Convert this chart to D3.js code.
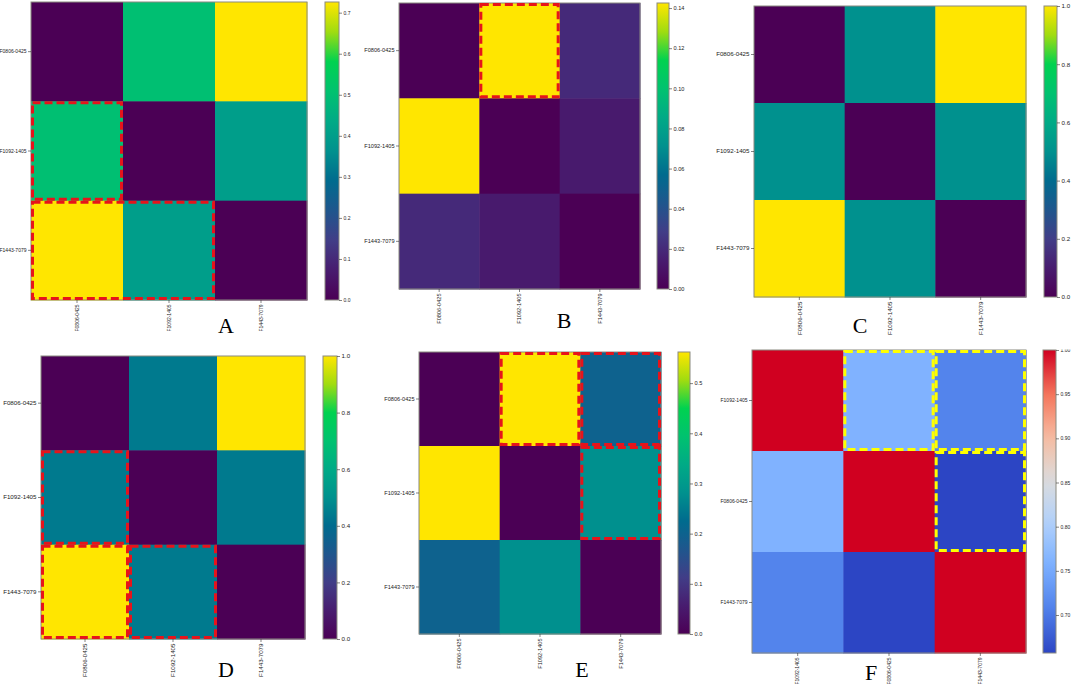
<!DOCTYPE html>
<html>
<head>
<meta charset="utf-8">
<script src="https://cdn.jsdelivr.net/npm/d3@7"></script>
<style>
  body { margin: 0; background: #fff; }
  svg { display: block; }
  .tick text { font-family: "Liberation Sans", Arial, sans-serif; fill: #222; }
  .tick line { stroke: #333; stroke-width: 0.6; }
</style>
</head>
<body>
<svg id="chart" width="1072" height="689"></svg>
<script>
// strain labels, row/column order of each matrix
var strains = ['F0806-0425', 'F1092-1405', 'F1443-7079'];
var strainsF = ['F1092-1405', 'F0806-0425', 'F1443-7079'];

// matrix values per panel
var valuesA = [[0, 0.50, 0.726], [0.50, 0, 0.40], [0.726, 0.40, 0]];
var valuesB = [[0, 0.1425, 0.020], [0.1425, 0, 0.013], [0.020, 0.013, 0]];
var valuesC = [[0, 0.50, 1.0], [0.50, 0, 0.50], [1.0, 0.50, 0]];
var valuesD = [[0, 0.44, 1.0], [0.44, 0, 0.44], [1.0, 0.44, 0]];
var valuesE = [[0, 0.562, 0.20], [0.562, 0, 0.28], [0.20, 0.28, 0]];
var valuesF = [[1.0, 0.76, 0.71], [0.76, 1.0, 0.657], [0.71, 0.657, 1.0]];

// colorbar tick values
var ticksA = [0, 0.1, 0.2, 0.3, 0.4, 0.5, 0.6, 0.7];
var ticksB = [0, 0.02, 0.04, 0.06, 0.08, 0.10, 0.12, 0.14];
var ticksC = [0, 0.2, 0.4, 0.6, 0.8, 1.0];
var ticksD = [0, 0.2, 0.4, 0.6, 0.8, 1.0];
var ticksE = [0, 0.1, 0.2, 0.3, 0.4, 0.5];
var ticksF = [0.70, 0.75, 0.80, 0.85, 0.90, 0.95, 1.00];

// highlighted cells [row, colStart, colEnd]
var boxesA = [[1, 0, 0], [2, 0, 1]];
var boxesB = [[0, 1, 1]];
var boxesC = [];
var boxesD = [[1, 0, 0], [2, 0, 0], [2, 1, 1]];
var boxesE = [[0, 1, 1], [0, 2, 2], [1, 2, 2]];
var boxesF = [[0, 1, 1], [0, 2, 2], [1, 2, 2]];

var viridisLike = d3.piecewise(d3.interpolateRgb, [
  '#4b0055', '#481c6f', '#413d87', '#1f568d', '#006b8e', '#00918e',
  '#00aa86', '#00c26f', '#00d250', '#a0dc10', '#ffe600'
]);
var coolwarmLike = d3.piecewise(d3.interpolateRgb, [
  '#2c45c4', '#5080ea', '#7aafff', '#b0d0fb', '#dcdcdc', '#f6bba0',
  '#f4735a', '#d00020'
]);

var panels = [
  { letter: 'A', labels: strains, values: valuesA, ticks: ticksA, fmt: '.1f', boxes: boxesA, cmap: viridisLike, box: '#e6141b',
    x: 31, y: 2, w: 276, h: 298, cbx: 325, cbw: 14, fs: 5, cfs: 5, lx: 226, ly: 333 },
  { letter: 'B', labels: strains, values: valuesB, ticks: ticksB, fmt: '.2f', boxes: boxesB, cmap: viridisLike, box: '#e6141b',
    x: 399, y: 3, w: 241, h: 286, cbx: 657, cbw: 12, fs: 5.6, cfs: 5.6, lx: 564, ly: 328 },
  { letter: 'C', labels: strains, values: valuesC, ticks: ticksC, fmt: '.1f', boxes: boxesC, cmap: viridisLike, box: '#e6141b',
    x: 754, y: 6, w: 272, h: 291, cbx: 1044, cbw: 13, fs: 6.2, cfs: 6.2, lx: 860, ly: 333 },
  { letter: 'D', labels: strains, values: valuesD, ticks: ticksD, fmt: '.1f', boxes: boxesD, cmap: viridisLike, box: '#e6141b',
    x: 41, y: 356, w: 264, h: 283, cbx: 323, cbw: 14, fs: 6.2, cfs: 6.2, lx: 226, ly: 677 },
  { letter: 'E', labels: strains, values: valuesE, ticks: ticksE, fmt: '.1f', boxes: boxesE, cmap: viridisLike, box: '#e6141b',
    x: 419, y: 352, w: 242, h: 282, cbx: 678, cbw: 12, fs: 5.6, cfs: 5.6, lx: 582, ly: 677 },
  { letter: 'F', labels: strainsF, values: valuesF, ticks: ticksF, fmt: '.2f', boxes: boxesF, cmap: coolwarmLike, box: '#ffff00',
    x: 752, y: 350, w: 274, h: 303, cbx: 1043, cbw: 13, fs: 5, cfs: 5, lx: 871, ly: 680, clipTop: true }
];

var svg = d3.select('#chart');
var defs = svg.append('defs');

panels.forEach(function(p, pi) {
  var g = svg.append('g').attr('class', 'panel');
  var n = p.labels.length;
  var x = d3.scaleBand().domain(d3.range(n)).range([p.x, p.x + p.w]);
  var y = d3.scaleBand().domain(d3.range(n)).range([p.y, p.y + p.h]);
  var flat = [].concat.apply([], p.values);
  var color = d3.scaleSequential(p.cmap).domain(d3.extent(flat));

  var cells = [];
  p.values.forEach(function(row, r) {
    row.forEach(function(v, c) { cells.push({ r: r, c: c, v: v }); });
  });

  g.selectAll('rect.cell')
    .data(cells)
    .enter()
    .append('rect')
    .attr('class', 'cell')
    .attr('x', function(d) { return x(d.c); })
    .attr('y', function(d) { return y(d.r); })
    .attr('width', x.bandwidth() + 0.5)
    .attr('height', y.bandwidth() + 0.5)
    .attr('fill', function(d) { return color(d.v); });

  g.append('rect')
    .attr('x', p.x).attr('y', p.y).attr('width', p.w).attr('height', p.h)
    .attr('fill', 'none').attr('stroke', '#8a8a80').attr('stroke-width', 1);

  // axes
  var yAxis = g.append('g')
    .attr('transform', 'translate(' + p.x + ',0)')
    .call(d3.axisLeft(y).tickSize(3).tickPadding(1.5).tickFormat(function(i) { return p.labels[i]; }));
  yAxis.select('.domain').remove();
  yAxis.selectAll('text').attr('font-size', p.fs);

  var xAxis = g.append('g')
    .attr('transform', 'translate(0,' + (p.y + p.h) + ')')
    .call(d3.axisBottom(x).tickSize(3).tickFormat(function(i) { return p.labels[i]; }));
  xAxis.select('.domain').remove();
  xAxis.selectAll('text')
    .attr('font-size', p.fs)
    .attr('transform', 'rotate(-90)')
    .attr('text-anchor', 'end')
    .attr('x', -4.5)
    .attr('y', 0)
    .attr('dy', '0.35em');

  // highlight boxes
  g.selectAll('rect.hl')
    .data(p.boxes)
    .enter()
    .append('rect')
    .attr('class', 'hl')
    .attr('x', function(d) { return x(d[1]) + 1.5; })
    .attr('y', function(d) { return y(d[0]) + 1.5; })
    .attr('width', function(d) { return x(d[2]) + x.bandwidth() - x(d[1]) - 3; })
    .attr('height', y.bandwidth() - 3)
    .attr('fill', 'none')
    .attr('stroke', p.box)
    .attr('stroke-width', 3)
    .attr('stroke-dasharray', '8,4');

  // colorbar
  var gid = 'grad' + pi;
  var grad = defs.append('linearGradient')
    .attr('id', gid).attr('x1', 0).attr('y1', 1).attr('x2', 0).attr('y2', 0);
  grad.selectAll('stop')
    .data(d3.range(0, 1.0001, 0.05))
    .enter()
    .append('stop')
    .attr('offset', function(t) { return t; })
    .attr('stop-color', function(t) { return p.cmap(t); });

  g.append('rect')
    .attr('x', p.cbx).attr('y', p.y).attr('width', p.cbw).attr('height', p.h)
    .attr('fill', 'url(#' + gid + ')')
    .attr('stroke', '#8a8a80').attr('stroke-width', 1);

  var cb = d3.scaleLinear().domain(color.domain()).range([p.y + p.h, p.y]);
  var cAxis = g.append('g')
    .attr('transform', 'translate(' + (p.cbx + p.cbw) + ',0)');
  if (p.clipTop) {
    // the top label is cut off at the frame edge in the original
    var clipId = 'clip' + pi;
    defs.append('clipPath').attr('id', clipId)
      .append('rect').attr('x', -2).attr('y', p.y - 0.5).attr('width', 60).attr('height', p.h + 10);
    cAxis.attr('clip-path', 'url(#' + clipId + ')');
  }
  cAxis.call(d3.axisRight(cb).tickValues(p.ticks).tickSize(3).tickPadding(1.5).tickFormat(d3.format(p.fmt)));
  cAxis.select('.domain').remove();
  cAxis.selectAll('text').attr('font-size', p.cfs);

  // panel letter
  g.append('text')
    .attr('x', p.lx).attr('y', p.ly)
    .attr('text-anchor', 'middle')
    .attr('font-family', '"Liberation Serif", "Times New Roman", serif')
    .attr('font-size', 22)
    .attr('fill', '#000')
    .text(p.letter);
});
</script>
</body>
</html>
